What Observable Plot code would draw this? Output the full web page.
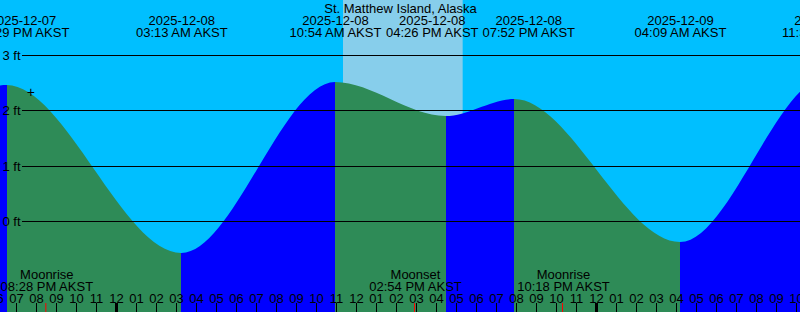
<!DOCTYPE html>
<html>
<head>
<meta charset="utf-8">
<script src="https://cdn.jsdelivr.net/npm/d3@7"></script>
<script src="https://cdn.jsdelivr.net/npm/@observablehq/plot@0.6"></script>
<style>
  html, body { margin: 0; padding: 0; background: #00BFFF; }
  #chart svg { display: block; }
</style>
</head>
<body>
<div id="chart"></div>
<script>
// ---------- data (AKST wall-clock times) ----------
const stationName = "St. Matthew Island, Alaska";
const tideTimes = ["2025-12-07 15:15", "2025-12-07 18:29", "2025-12-08 03:13", "2025-12-08 10:54",
                   "2025-12-08 16:26", "2025-12-08 19:52", "2025-12-09 04:09", "2025-12-09 11:30",
                   "2025-12-09 17:10"];
const tideHeights = [1.9, 2.45, -0.58, 2.52, 1.90, 2.20, -0.38, 2.6, 1.85];
const sunriseTime = "2025-12-08 11:18";
const sunsetTime = "2025-12-08 17:17";
const moonTimes = ["2025-12-07 20:28", "2025-12-08 14:54", "2025-12-08 22:18"];
const moonEvents = ["Moonrise", "Moonset", "Moonrise"];
const heightTicks = [0, 1, 2, 3];
const heightUnit = "ft";
const zoneName = "AKST";
const markTime = "2025-12-07 19:40";
const markHeight = 2.34;
const viewStart = "2025-12-07 18:09";
const viewEnd = "2025-12-09 10:09";
const heightDomain = [-1.6446, 3.994];

// ---------- styles ----------
const nightSky = "#00BFFF", daySky = "#87CEEB";
const risingColor = "#0000FF", fallingColor = "#2E8B57";
const W = 800, H = 312;
const font = "'Liberation Sans', Arial, sans-serif";

const parse = d3.utcParse("%Y-%m-%d %H:%M");
const fmtDate = d3.utcFormat("%Y-%m-%d");
const fmtClock = d3.utcFormat("%I:%M %p");
const fmtHour = d3.utcFormat("%I");

const xDomain = [parse(viewStart), parse(viewEnd)];
const xs = Plot.scale({x: {type: "utc", domain: xDomain, range: [0, W]}});

const tides = tideTimes.map((t, i) => ({time: parse(t), height: tideHeights[i]}));

// label placement: push overlapping labels apart, centred on their group
const labelGap = 96.5;
const groups = [];
for (const d of tides) {
  groups.push({items: [d], center: xs.apply(d.time)});
  while (groups.length > 1) {
    const g = groups[groups.length - 1], p = groups[groups.length - 2];
    const pRight = p.center + (p.items.length - 1) * labelGap / 2;
    const gLeft = g.center - (g.items.length - 1) * labelGap / 2;
    if (gLeft - pRight < labelGap) {
      const items = p.items.concat(g.items);
      const center = d3.mean(items, e => xs.apply(e.time));
      groups.splice(-2, 2, {items, center});
    } else break;
  }
}
const tideLabels = [];
for (const g of groups) {
  g.items.forEach((d, i) => {
    const px = g.center - (g.items.length - 1) * labelGap / 2 + i * labelGap;
    tideLabels.push({x: xs.invert(px), date: fmtDate(d.time), clock: `${fmtClock(d.time)} ${zoneName}`});
  });
}

const moons = moonTimes.map((t, i) => ({time: parse(t), name: moonEvents[i], clock: `${fmtClock(parse(t))} ${zoneName}`}));
const hours = d3.utcHour.range(d3.utcHour.floor(xDomain[0]), xDomain[1]);
const midnights = hours.filter(d => d.getUTCHours() === 0);
const otherHours = hours.filter(d => d.getUTCHours() !== 0);

// gradient that colours rising / falling tide intervals
const gradientMark = (index, scales, values, dimensions) => {
  const width = dimensions.width;
  const defs = d3.create("svg:defs");
  const lg = defs.append("linearGradient")
    .attr("id", "tide-fill").attr("gradientUnits", "userSpaceOnUse")
    .attr("x1", 0).attr("x2", width).attr("y1", 0).attr("y2", 0);
  const cl = v => Math.max(0, Math.min(1, v));
  for (let i = 0; i < tides.length - 1; i++) {
    const a = cl(scales.x(tides[i].time) / width), b = cl(scales.x(tides[i + 1].time) / width);
    const c = tides[i + 1].height > tides[i].height ? risingColor : fallingColor;
    lg.append("stop").attr("offset", a).attr("stop-color", c);
    lg.append("stop").attr("offset", b).attr("stop-color", c);
  }
  return defs.node();
};

const chart = Plot.plot({
  width: W, height: H,
  marginTop: 0, marginRight: 0, marginBottom: 0, marginLeft: 0,
  style: {background: nightSky, fontFamily: font, fontSize: "13px", overflow: "hidden"},
  x: {type: "utc", domain: xDomain, axis: null},
  y: {domain: heightDomain, axis: null, round: true},
  marks: [
    gradientMark,
    Plot.rect([0], {x1: () => parse(sunriseTime), x2: () => parse(sunsetTime), fill: daySky}),
    Plot.area(tides, {x1: "time", y1: heightDomain[0], y2: "height", curve: "monotone-x", fill: "url(#tide-fill)"}),
    Plot.ruleY(heightTicks, {y: d => d, stroke: "black", insetLeft: 22}),
    Plot.text(heightTicks, {y: d => d, text: d => `${d} ${heightUnit}`, frameAnchor: "left", textAnchor: "start", lineAnchor: "middle", dx: 2, fontSize: 13, fill: "black"}),
    Plot.text([stationName], {text: d => d, frameAnchor: "top", lineAnchor: "bottom", dy: 12, fontSize: 13, fill: "black"}),
    Plot.text(tideLabels, {x: "x", text: "date", frameAnchor: "top", lineAnchor: "bottom", dy: 24, fontSize: 13, fill: "black"}),
    Plot.text(tideLabels, {x: "x", text: "clock", frameAnchor: "top", lineAnchor: "bottom", dy: 36, fontSize: 13, fill: "black"}),
    Plot.text(moons, {x: "time", text: "name", frameAnchor: "bottom", lineAnchor: "bottom", dy: -34, fontSize: 13, fill: "black"}),
    Plot.text(moons, {x: "time", text: "clock", frameAnchor: "bottom", lineAnchor: "bottom", dy: -22, fontSize: 13, fill: "black"}),
    Plot.text(hours, {x: d => d, text: d => fmtHour(d), frameAnchor: "bottom", lineAnchor: "bottom", dy: -10, dx: -1, fontSize: 13, fill: "black"}),
    Plot.ruleX(otherHours, {x: d => d, stroke: "black", insetTop: 303, dx: -1}),
    Plot.ruleX(midnights, {x: d => d, stroke: "black", strokeWidth: 3, insetTop: 303, dx: -1}),
    Plot.ruleX(moons, {x: "time", stroke: "#FF0000", insetTop: 303, dx: -1}),
    Plot.text([0], {x: () => parse(markTime), y: () => markHeight, text: () => "+", lineAnchor: "middle", fontSize: 14, fill: "black"})
  ]
});
document.getElementById("chart").append(chart);
</script>
</body>
</html>
